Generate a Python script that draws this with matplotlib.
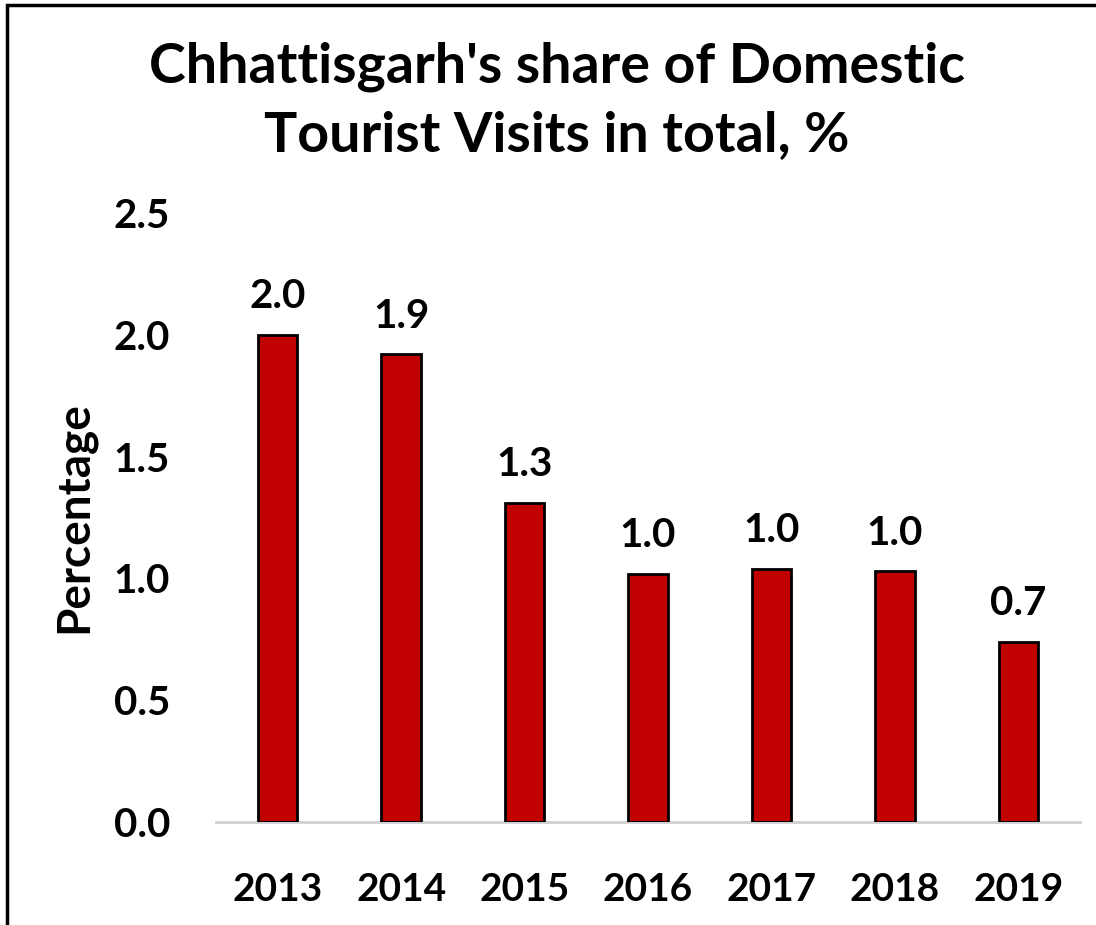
import matplotlib.pyplot as plt
from matplotlib.patches import Rectangle

# Chhattisgarh's share of domestic tourist visits, %
years = ['2013', '2014', '2015', '2016', '2017', '2018', '2019']
share = [2.00, 1.92, 1.31, 1.02, 1.04, 1.03, 0.74]

BAR_COLOR = '#C00000'

plt.rcParams['font.family'] = ['Lato', 'DejaVu Sans']
plt.rcParams['font.weight'] = 'bold'

fig = plt.figure(figsize=(10.96, 9.25), dpi=100)
ax = fig.add_axes([216 / 1096, 1 - 822 / 925, (1080 - 216) / 1096, (822 - 213) / 925])

x = range(len(years))
bars = ax.bar(x, share, width=0.32, color=BAR_COLOR, edgecolor='black', linewidth=2, zorder=3)

for rect, val in zip(bars, share):
    ax.annotate(f'{val:.1f}', xy=(rect.get_x() + rect.get_width() / 2, val),
                xytext=(0, 14), textcoords='offset points',
                ha='center', va='bottom', fontsize=29, fontweight='bold')

ax.set_xlim(-0.5, len(years) - 0.5)
ax.set_ylim(0, 2.5)
ax.set_yticks([0, 0.5, 1.0, 1.5, 2.0, 2.5])
ax.set_yticklabels([f'{t:.1f}' for t in ax.get_yticks()])
ax.set_xticks(list(x))
ax.set_xticklabels(years)
ax.tick_params(axis='both', length=0)
ax.tick_params(axis='y', labelsize=29, pad=33)
ax.tick_params(axis='x', labelsize=28, pad=36)

for side in ['top', 'right', 'left']:
    ax.spines[side].set_visible(False)
ax.spines['bottom'].set_color('#D0D0D0')
ax.spines['bottom'].set_linewidth(2)

ax.set_ylabel('Percentage', fontsize=33, fontweight='bold', labelpad=13)

fig.text(0.508, 1 - 101 / 925, "Chhattisgarh's share of Domestic\nTourist Visits in total, %",
         ha='center', va='center', fontsize=40, fontweight='bold', linespacing=1.45)

# chart border, cut off at the right and bottom
fig.patches.append(Rectangle((7 / 1096, -0.1), 1.2, 1 - 5 / 925 + 0.1,
                             transform=fig.transFigure, fill=False,
                             edgecolor='black', linewidth=2.5))

fig.savefig('out.png', dpi=100)
